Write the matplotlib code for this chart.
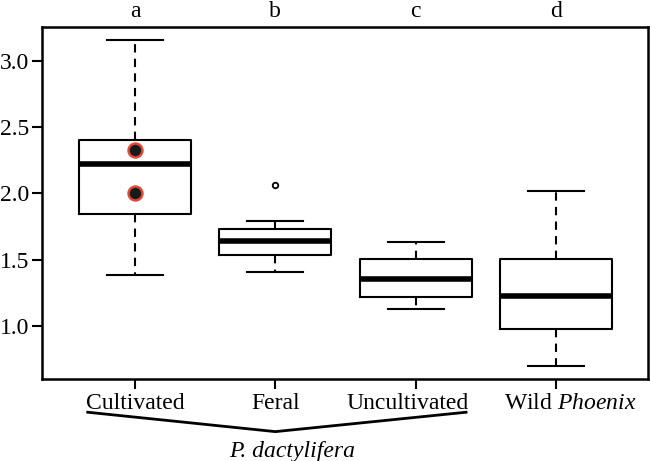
import matplotlib
matplotlib.use("Agg")
import matplotlib.pyplot as plt
from matplotlib.transforms import ScaledTranslation

plt.rcParams['font.family'] = 'Liberation Serif'
plt.rcParams['mathtext.fontset'] = 'custom'
plt.rcParams['mathtext.rm'] = 'Liberation Serif'
plt.rcParams['mathtext.it'] = 'Liberation Serif:italic'

# box statistics
groups = ["Cultivated", "Feral", "Uncultivated", "Wild $\\it{Phoenix}$"]
letters = ["a", "b", "c", "d"]
whislo = [1.386, 1.407, 1.124, 0.697]
q1 = [1.843, 1.535, 1.220, 0.977]
med = [2.220, 1.638, 1.351, 1.227]
q3 = [2.407, 1.733, 1.508, 1.508]
whishi = [3.160, 1.793, 1.634, 2.017]
outliers = [[], [2.063], [], []]

# highlighted samples in the cultivated group
hl_x = [1, 1]
hl_y = [2.326, 2.0]

stats = []
for i in range(len(groups)):
    stats.append(dict(whislo=whislo[i], q1=q1[i], med=med[i], q3=q3[i],
                      whishi=whishi[i], fliers=outliers[i], label=groups[i]))

fig = plt.figure(figsize=(6.5, 4.61), dpi=100)
ax = fig.add_axes([0.0646, 0.178, 0.9324, 0.7634])

pos = list(range(1, len(groups) + 1))
ax.bxp(stats, positions=pos, widths=0.8, showfliers=True,
       boxprops=dict(color='black', linewidth=1.5),
       medianprops=dict(color='black', linewidth=4, solid_capstyle='butt'),
       whiskerprops=dict(color='black', linewidth=1.5, linestyle=(0, (4, 3))),
       capprops=dict(color='black', linewidth=1.5),
       capwidths=0.4,
       flierprops=dict(marker='o', markersize=4, markerfacecolor='white',
                       markeredgecolor='black', markeredgewidth=1.3))

ax.scatter(hl_x, hl_y, s=100, facecolor='#1a1a1a', edgecolor='#e0483a',
           linewidth=1.8, zorder=5)

ax.set_xlim(0.337, 4.656)
ax.set_ylim(0.598, 3.258)
ax.set_yticks([1.0, 1.5, 2.0, 2.5, 3.0])
ax.set_yticklabels(["1.0", "1.5", "2.0", "2.5", "3.0"])
ax.set_xticks(pos)
ax.set_xticklabels(groups)
ax.tick_params(axis='both', direction='out', length=7, width=1.5,
               labelsize=17, pad=2)
ax.tick_params(axis='x', pad=3)
for s in ax.spines.values():
    s.set_linewidth(1.8)

# small horizontal nudges so labels sit as in the original
nudges = [0, 0, -8, 14]
for lab, dx in zip(ax.get_xticklabels(), nudges):
    lab.set_transform(lab.get_transform() +
                      ScaledTranslation(dx / 100, 0, fig.dpi_scale_trans))

for p, l in zip(pos, letters):
    ax.text(p, 1.045, l, transform=ax.get_xaxis_transform(), ha='center',
            va='center', fontsize=17)

# bracket under the three P. dactylifera groups
br_x = [0.663, 2.0, 3.359]
br_y = [-0.0946, -0.1497, -0.0946]
ax.plot(br_x, br_y, color='black', linewidth=2, clip_on=False,
        transform=ax.get_xaxis_transform())
ax.text(2.119, -0.205, "P. dactylifera", style='italic', fontsize=17,
        ha='center', va='center', transform=ax.get_xaxis_transform())

fig.savefig("out.png", dpi=100)
